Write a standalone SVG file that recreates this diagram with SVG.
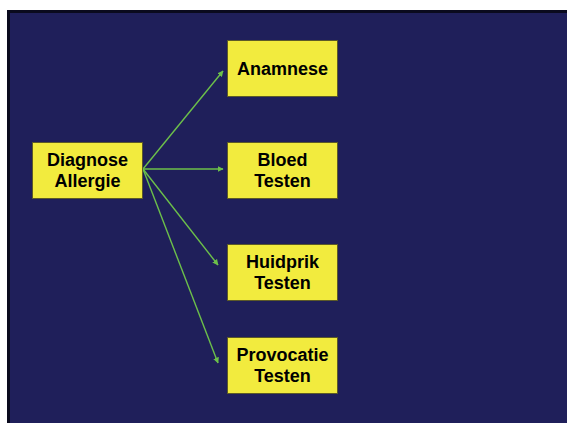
<svg xmlns="http://www.w3.org/2000/svg" width="567" height="423" viewBox="0 0 567 423">
  <defs>
    <marker id="head" viewBox="0 0 10 10" refX="9" refY="5" markerWidth="6" markerHeight="6" markerUnits="userSpaceOnUse" orient="auto">
      <path d="M0,0 L10,5 L0,10 Z" fill="#6cc04a"/>
    </marker>
    <style>
      .box { fill: #f2eb3e; stroke: #5c5a28; stroke-width: 1; }
      .label { font-family: "Liberation Sans", Arial, sans-serif; font-weight: bold; font-size: 18px; fill: #000; text-anchor: middle; }
      .link { stroke: #6cc04a; stroke-width: 1.4; fill: none; marker-end: url(#head); }
    </style>
  </defs>

  <!-- page -->
  <rect x="0" y="0" width="567" height="423" fill="#ffffff"/>
  <rect x="8.5" y="11.5" width="640" height="500" fill="#1f1f5a" stroke="#0a0a1e" stroke-width="3"/>

  <!-- connectors -->
  <g id="connectors">
    <line class="link" x1="143" y1="169" x2="223" y2="71"/>
    <line class="link" x1="143" y1="169" x2="223" y2="169"/>
    <line class="link" x1="143" y1="169" x2="218" y2="265"/>
    <line class="link" x1="143" y1="169" x2="218" y2="363"/>
  </g>

  <g id="diagnose">
    <rect class="box" x="32.5" y="142.5" width="110" height="56"/>
    <text class="label" x="87.5" y="166">Diagnose</text>
    <text class="label" x="87.5" y="187">Allergie</text>
  </g>

  <g id="anamnese">
    <rect class="box" x="227.5" y="40.5" width="110" height="56"/>
    <text class="label" x="282.5" y="75">Anamnese</text>
  </g>

  <g id="bloed">
    <rect class="box" x="227.5" y="142.5" width="110" height="56"/>
    <text class="label" x="282.5" y="166">Bloed</text>
    <text class="label" x="282.5" y="187">Testen</text>
  </g>

  <g id="huidprik">
    <rect class="box" x="227.5" y="244.5" width="110" height="56"/>
    <text class="label" x="282.5" y="268">Huidprik</text>
    <text class="label" x="282.5" y="289">Testen</text>
  </g>

  <g id="provocatie">
    <rect class="box" x="227.5" y="337.5" width="110" height="56"/>
    <text class="label" x="282.5" y="361">Provocatie</text>
    <text class="label" x="282.5" y="382">Testen</text>
  </g>
</svg>
